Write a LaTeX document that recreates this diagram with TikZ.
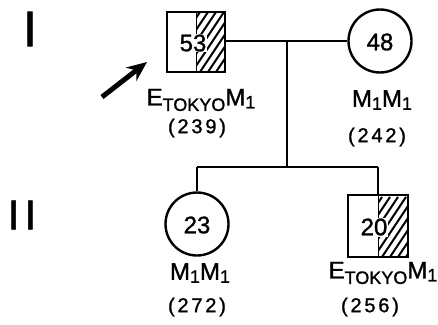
\documentclass[tikz,border=0pt]{standalone}
\usepackage{fontspec}
\setmainfont[FakeBold=1.2]{Liberation Sans}
\newfontfamily\numfont[LetterSpace=14,FakeBold=1.2]{Liberation Sans}
\usetikzlibrary{arrows.meta}

\newcommand{\lowsub}[2]{\raisebox{-#1}{\fontsize{18}{18}\selectfont #2}}
\newcommand{\etokyo}{E\lowsub{5.5pt}{TOKYO}M\lowsub{3pt}{1}}
\newcommand{\mm}{M\lowsub{3pt}{1}M\lowsub{3pt}{1}}

\begin{document}
\begin{tikzpicture}[x=1pt, y=-1pt,
  line width=2.4pt,
  txt/.style={inner sep=0pt, font=\fontsize{24}{26}\selectfont},
  num/.style={inner sep=0pt, font=\numfont\fontsize{20}{22}\selectfont},
  female/.style={draw, circle, minimum size=63pt, inner sep=0pt},
  hatchsq/.style={draw, minimum width=58pt, minimum height=60pt, inner sep=0pt,
    path picture={
      \clip (path picture bounding box.north) rectangle (path picture bounding box.south east);
      \foreach \k in {-44,-36,...,30}
        \draw[line width=2pt] ([xshift=\k pt]path picture bounding box.south) -- ++(40pt,60pt);
      \draw (path picture bounding box.north) -- (path picture bounding box.south);
    }},
  agelbl/.style={fill=white, inner sep=1pt, font=\fontsize{24}{26}\selectfont}]

  \useasboundingbox (0,0) rectangle (438,324);

  % --- 1. generations ---
  \node[txt, font=\fontsize{50}{50}\selectfont] (genI) at (30,29) {I};
  \node[txt, font=\fontsize{42}{42}\selectfont] (genII) at (22,215) {I\kern5pt I};

  % --- 2. parents ---
  \node[hatchsq] (father) at (196,42) {};
  \node[agelbl] (fage) at (193,43) {53};
  \node[female] (mother) at (380,41) {};
  \node[txt] (mage) at (380,42) {48};

  \node[txt] (fgeno) at (201,100) {\etokyo};
  \node[num] (fid) at (197,128) {(239)};
  \node[txt] (mgeno) at (382,100) {\mm};
  \node[num] (mid) at (377,137) {(242)};

  % propositus
  \coordinate (tail) at (102,97);
  \draw[line width=5pt, -{Stealth[length=20pt, width=17pt]}] (tail) -- (147,62);

  % --- 3. children ---
  \node[female] (daughter) at (197,224) {};
  \node[txt] (dage) at (197,225) {23};
  \node[hatchsq, minimum width=60pt, minimum height=62pt] (son) at (378,226) {};
  \node[agelbl] (sage) at (374,227) {20};

  \node[txt] (dgeno) at (200,273) {\mm};
  \node[num] (did) at (197,307) {(272)};
  \node[txt] (sgeno) at (383,273) {\etokyo};
  \node[num] (sid) at (370,307) {(256)};

  % --- 4. lines ---
  \coordinate (mar) at (287,41);
  \coordinate (sib) at (287,167);
  \draw (father.east |- mar) -- (mother.west |- mar);
  \draw (mar) -- (sib);
  \draw (daughter.north |- sib) -- (son.north |- sib);
  \draw (daughter.north |- sib) -- (daughter.north);
  \draw (son.north |- sib) -- (son.north);

\end{tikzpicture}
\end{document}
